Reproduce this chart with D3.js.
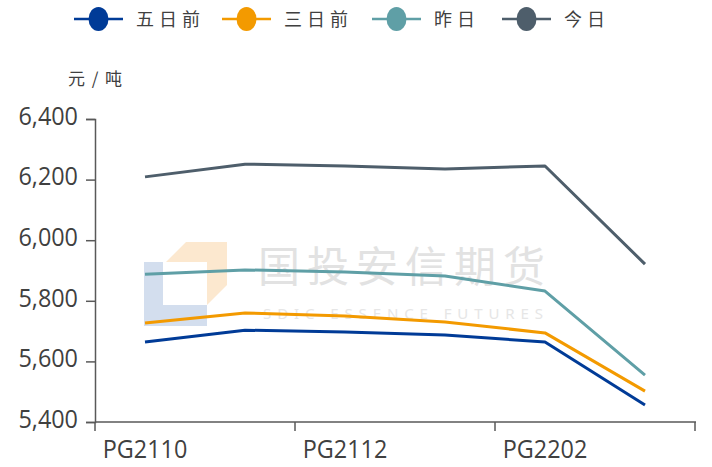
<!DOCTYPE html>
<html><head><meta charset="utf-8">
<script src="https://cdn.jsdelivr.net/npm/d3@7/dist/d3.min.js"></script>
<style>body{margin:0;background:#fff}svg{display:block}</style>
</head><body>
<script>
const categories = ["PG2110","PG2111","PG2112","PG2201","PG2202","PG2203"];
const seriesNames = ["五日前","三日前","昨日","今日"];
const fiveDaysAgo = [5664,5703,5697,5687,5664,5456];
const threeDaysAgo = [5727,5760,5750,5730,5694,5502];
const yesterday = [5888,5902,5895,5882,5832,5555];
const today = [6209,6251,6245,6235,6245,5921];
const yTicks = [5400,5600,5800,6000,6200,6400];
const colors = ["#003b97","#f39a00","#5f9fa6","#4e5e6b"];
const seriesValues = [fiveDaysAgo, threeDaysAgo, yesterday, today];

const W=712,H=467;
const svg=d3.select("body").append("svg").attr("width",W).attr("height",H);
const x=d3.scaleBand().domain(categories).range([95,695]);
const y=d3.scaleLinear().domain([5400,6400]).range([422,119]);

// watermark
const wm=svg.append("g");
wm.append("path").attr("d","M144,262H163V305H207V326H144Z").attr("fill","#d3deee");
wm.append("path").attr("d","M166,262L186,242H227V285L207,305V262Z").attr("fill","#fce8cf");
wm.append("text").attr("x",258).attr("y",282).attr("font-family","Noto Sans CJK SC")
  .attr("font-size",42).attr("textLength",287).attr("lengthAdjust","spacing").attr("fill","#e2e2e2").text("国投安信期货");
wm.append("text").attr("x",263).attr("y",319).attr("font-family","Noto Sans, sans-serif")
  .attr("font-size",15).attr("textLength",280).attr("lengthAdjust","spacing").attr("fill","#e6e6e6").text("SDIC ESSENCE FUTURES");

// axes
const axisColor="#595959";
const sx=0.9;
const yAxis=svg.append("g").attr("transform","translate(95,0)")
  .call(d3.axisLeft(y).tickValues(yTicks).tickFormat(d3.format(",")).tickSize(9).tickPadding(8));
const xAxis=svg.append("g").attr("transform","translate(0,422)")
  .call(d3.axisBottom(x).tickValues(categories.filter((d,i)=>i%2===0)).tickSize(0).tickPadding(18));
[yAxis,xAxis].forEach(g=>{
  g.select(".domain").attr("stroke",axisColor).attr("stroke-width",1.5);
  g.selectAll(".tick line").attr("stroke",axisColor).attr("stroke-width",1.5);
  g.selectAll("text").attr("fill","#404040").attr("font-family","Open Sans, sans-serif").attr("font-size",26);
});
yAxis.selectAll(".tick text").attr("x",-17/sx).attr("dy","0.2em").attr("transform",`scale(${sx},1)`);
xAxis.selectAll(".tick text").attr("transform",`scale(${sx},1)`);
xAxis.select(".domain").attr("d","M95,0H696");
// x boundary ticks
const bTicks=[0,2,4].map(i=>x(categories[i])).concat([x.range()[1]]);
xAxis.selectAll(".btick").data(bTicks).join("line").attr("class","btick")
  .attr("x1",d=>d).attr("x2",d=>d).attr("y1",0).attr("y2",9)
  .attr("stroke",axisColor).attr("stroke-width",1.5);

// lines
const line=d3.line().x((d,i)=>x(categories[i])+x.bandwidth()/2).y(d=>y(d));
svg.append("g").selectAll("path").data(seriesValues).join("path")
  .attr("d",line).attr("fill","none").attr("stroke",(d,i)=>colors[i]).attr("stroke-width",3)
  .attr("stroke-linejoin","round");

// unit
svg.append("text").attr("x",68).attr("y",85).attr("font-family","Noto Sans CJK SC")
  .attr("font-size",17).attr("textLength",54).attr("lengthAdjust","spacing").attr("fill","#404040").text("元/吨");

// legend
const lx=[74,222,372,502];
const lg=svg.append("g").selectAll("g").data(seriesNames).join("g")
  .attr("transform",(d,i)=>`translate(${lx[i]},19)`);
lg.append("line").attr("x1",0).attr("x2",49).attr("stroke",(d,i)=>colors[i]).attr("stroke-width",2.5);
lg.append("ellipse").attr("cx",24.5).attr("rx",10).attr("ry",12).attr("fill",(d,i)=>colors[i]);
lg.append("text").attr("x",62).attr("y",7).attr("font-family","Noto Sans CJK SC")
  .attr("font-size",18).attr("letter-spacing",5).attr("fill","#404040").text(d=>d);
</script>
</body></html>
